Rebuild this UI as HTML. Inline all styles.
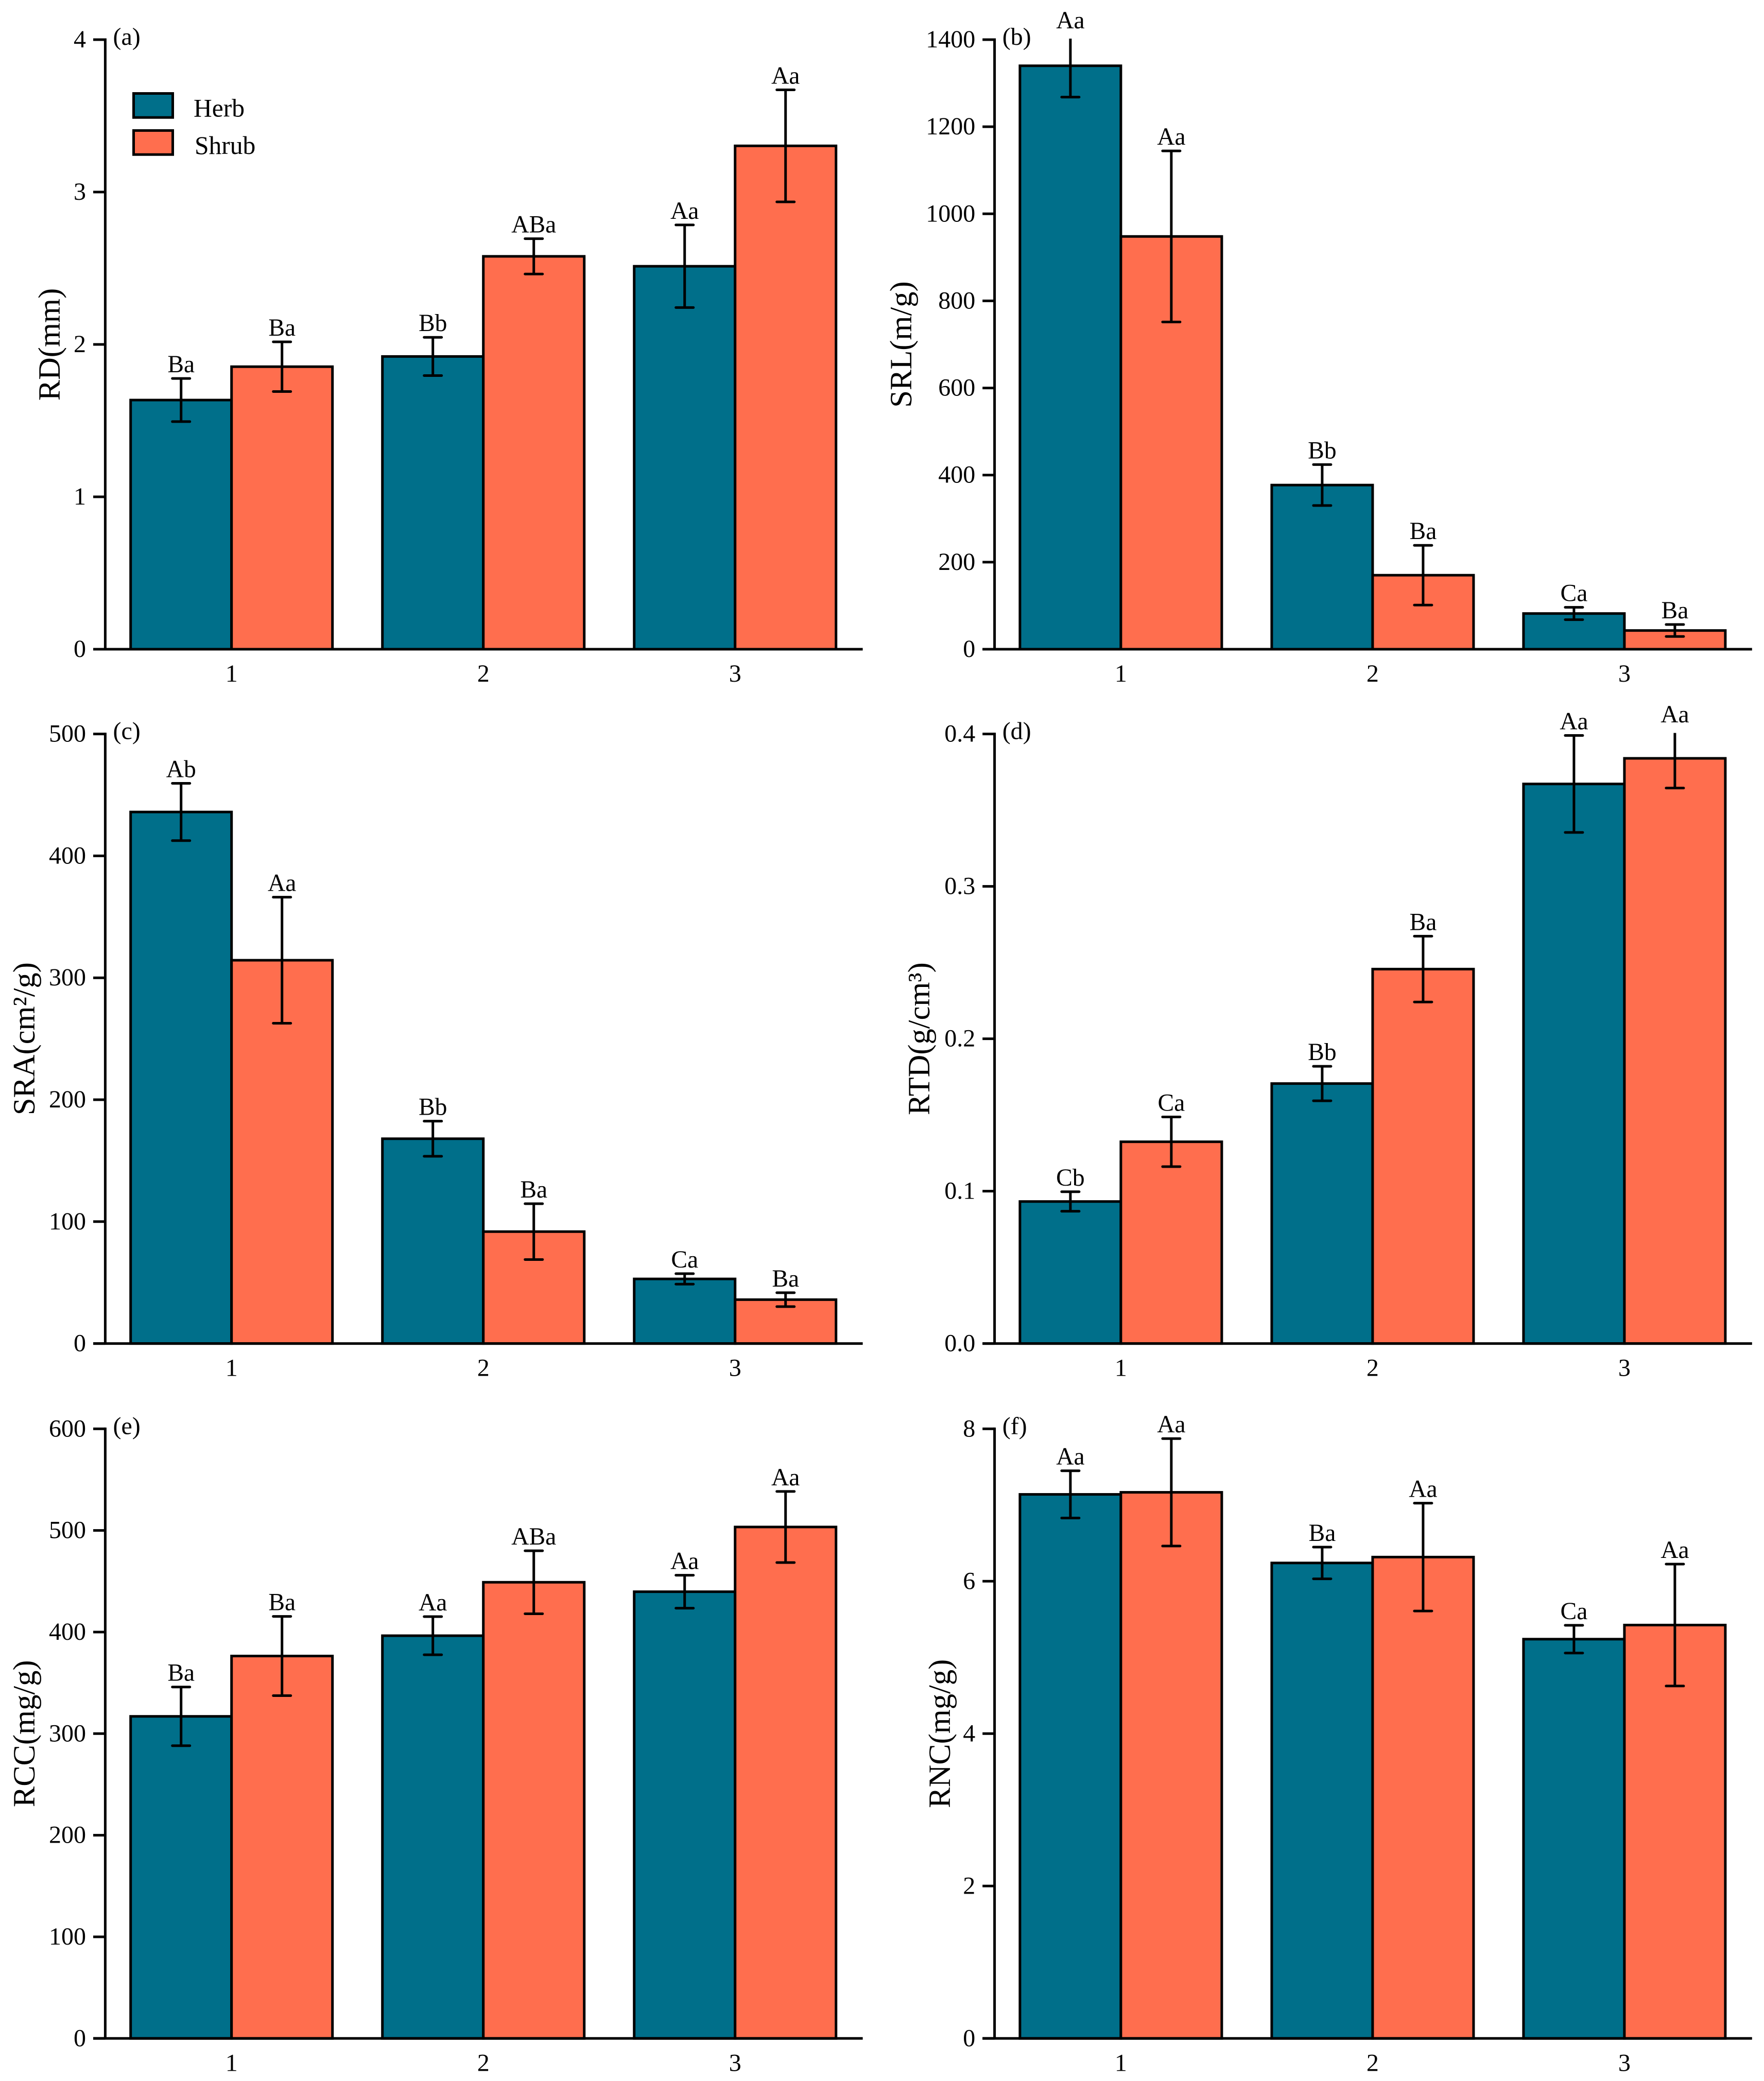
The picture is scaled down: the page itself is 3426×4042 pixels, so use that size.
<!DOCTYPE html>
<html lang="en">
<head>
<meta charset="utf-8">
<title>Root traits of herb and shrub across three groups</title>
<style>
html,body{margin:0;padding:0;background:#fff;}
svg{display:block;}
text{font-family:"Liberation Serif","Times New Roman",serif;fill:#000;}
</style>
</head>
<body>
<svg id="chart" xmlns="http://www.w3.org/2000/svg" width="3426" height="4042" viewBox="0 0 3426 4042">
<rect x="0" y="0" width="3426" height="4042" fill="#ffffff"/>
<g id="panels"></g>
<g>
<rect x="259.5" y="181.5" width="76" height="46.7" fill="#006F8A" stroke="#000" stroke-width="5"/>
<text x="376" y="226.7" font-size="49.5">Herb</text>
<rect x="259.5" y="253.5" width="76" height="46.7" fill="#FF6E4E" stroke="#000" stroke-width="5"/>
<text x="378" y="299" font-size="49.5">Shrub</text>
</g>
</svg>
<script>
const categories = ['1', '2', '3'];

const rdTicks = ['0', '1', '2', '3', '4'];
const rdHerb = [1.635, 1.921, 2.513];
const rdShrub = [1.854, 2.578, 3.303];
const rdHerbErr = [0.1415, 0.1255, 0.271];
const rdShrubErr = [0.163, 0.116, 0.3675];
const rdHerbSig = ['Ba', 'Bb', 'Aa'];
const rdShrubSig = ['Ba', 'ABa', 'Aa'];

const srlTicks = ['0', '200', '400', '600', '800', '1000', '1200', '1400'];
const srlHerb = [1340, 377, 82];
const srlShrub = [948, 170, 43];
const srlHerbErr = [72, 47, 14.2];
const srlShrubErr = [196.4, 68.6, 13.7];
const srlHerbSig = ['Aa', 'Bb', 'Ca'];
const srlShrubSig = ['Aa', 'Ba', 'Ba'];

const sraTicks = ['0', '100', '200', '300', '400', '500'];
const sraHerb = [436, 168, 53];
const sraShrub = [314.4, 91.8, 36];
const sraHerbErr = [23.5, 14.4, 4.3];
const sraShrubErr = [51.7, 22.9, 5.7];
const sraHerbSig = ['Ab', 'Bb', 'Ca'];
const sraShrubSig = ['Aa', 'Ba', 'Ba'];

const rtdTicks = ['0.0', '0.1', '0.2', '0.3', '0.4'];
const rtdHerb = [0.0932, 0.1706, 0.3672];
const rtdShrub = [0.1324, 0.2457, 0.384];
const rtdHerbErr = [0.0064, 0.0113, 0.0318];
const rtdShrubErr = [0.0163, 0.0216, 0.0195];
const rtdHerbSig = ['Cb', 'Bb', 'Aa'];
const rtdShrubSig = ['Ca', 'Ba', 'Aa'];

const rccTicks = ['0', '100', '200', '300', '400', '500', '600'];
const rccHerb = [317, 396.4, 439.7];
const rccShrub = [376.4, 449, 503.4];
const rccHerbErr = [28.9, 18.8, 16.2];
const rccShrubErr = [39, 31, 35];
const rccHerbSig = ['Ba', 'Aa', 'Aa'];
const rccShrubSig = ['Ba', 'ABa', 'Aa'];

const rncTicks = ['0', '2', '4', '6', '8'];
const rncHerb = [7.14, 6.24, 5.24];
const rncShrub = [7.167, 6.317, 5.425];
const rncHerbErr = [0.31, 0.208, 0.182];
const rncShrubErr = [0.705, 0.708, 0.8];
const rncHerbSig = ['Aa', 'Ba', 'Ca'];
const rncShrubSig = ['Aa', 'Aa', 'Aa'];

const panels = [
  {key:'rd',  letter:'(a)', title:'RD(mm)',      ticks:rdTicks,  herb:rdHerb,  shrub:rdShrub,  herbErr:rdHerbErr,  shrubErr:rdShrubErr,  herbSig:rdHerbSig,  shrubSig:rdShrubSig,  dx:0,      top:77,     bottom:1261,   titleX:116},
  {key:'srl', letter:'(b)', title:'SRL(m/g)',    ticks:srlTicks, herb:srlHerb, shrub:srlShrub, herbErr:srlHerbErr, shrubErr:srlShrubErr, herbSig:srlHerbSig, shrubSig:srlShrubSig, dx:1727.2, top:77,     bottom:1261,   titleX:1770},
  {key:'sra', letter:'(c)', title:'SRA(cm²/g)',  ticks:sraTicks, herb:sraHerb, shrub:sraShrub, herbErr:sraHerbErr, shrubErr:sraShrubErr, herbSig:sraHerbSig, shrubSig:sraShrubSig, dx:0,      top:1425.6, bottom:2609.6, titleX:67},
  {key:'rtd', letter:'(d)', title:'RTD(g/cm³)',  ticks:rtdTicks, herb:rtdHerb, shrub:rtdShrub, herbErr:rtdHerbErr, shrubErr:rtdShrubErr, herbSig:rtdHerbSig, shrubSig:rtdShrubSig, dx:1727.2, top:1425.6, bottom:2609.6, titleX:1805},
  {key:'rcc', letter:'(e)', title:'RCC(mg/g)',   ticks:rccTicks, herb:rccHerb, shrub:rccShrub, herbErr:rccHerbErr, shrubErr:rccShrubErr, herbSig:rccHerbSig, shrubSig:rccShrubSig, dx:0,      top:2775.3, bottom:3959.3, titleX:67},
  {key:'rnc', letter:'(f)', title:'RNC(mg/g)',   ticks:rncTicks, herb:rncHerb, shrub:rncShrub, herbErr:rncHerbErr, shrubErr:rncShrubErr, herbSig:rncHerbSig, shrubSig:rncShrubSig, dx:1727.2, top:2775.3, bottom:3959.3, titleX:1845}
];

const SVG_NS = 'http://www.w3.org/2000/svg';
const HERB_COLOR = '#006F8A';
const SHRUB_COLOR = '#FF6E4E';
const AXIS_X = 204.4;
const AXIS_END = 1675.6;
const TICK_LEFT = 181;
const FIRST_BAR = 253.7;
const BAR_W = 196;
const PITCH = 489;
const CAP_HALF = 17;
const LW = 5;

function make(tag, attrs, parent, text) {
  const n = document.createElementNS(SVG_NS, tag);
  Object.keys(attrs).forEach(function (k) { n.setAttribute(k, attrs[k]); });
  if (text !== undefined) n.textContent = text;
  parent.appendChild(n);
  return n;
}

function drawSeries(p, g, yScale, seriesName, values, errors, sigs, color, offset) {
  values.forEach(function (v, i) {
    const left = p.dx + FIRST_BAR + PITCH * i + offset * BAR_W;
    const y = yScale(v);
    const bar = make('rect', {x:left, y:y, width:BAR_W, height:p.bottom - y, fill:color, stroke:'#000', 'stroke-width':LW}, g);
    
    
  });
}

function drawErrors(p, g, yScale, seriesName, values, errors, sigs, offset) {
  values.forEach(function (v, i) {
    const cx = p.dx + FIRST_BAR + PITCH * i + offset * BAR_W + BAR_W / 2;
    const hi = yScale(v + errors[i]);
    const lo = yScale(v - errors[i]);
    const eg = make('g', {stroke:'#000', 'stroke-width':LW, 'stroke-linecap':'round', 'clip-path':'url(#clip-' + p.key + ')'}, g);
    
    
    make('line', {x1:cx, x2:cx, y1:hi, y2:lo, 'stroke-linecap':'butt'}, eg);
    make('line', {x1:cx - CAP_HALF, x2:cx + CAP_HALF, y1:hi, y2:hi}, eg);
    make('line', {x1:cx - CAP_HALF, x2:cx + CAP_HALF, y1:lo, y2:lo}, eg);
    const sig = make('text', {x:cx, y:hi - 12, 'font-size':47.5, 'text-anchor':'middle'}, g, sigs[i]);
    
    
  });
}

function drawPanel(p, root) {
  const g = make('g', {}, root);
  
  

  const yMax = parseFloat(p.ticks[p.ticks.length - 1]);
  const yScale = function (v) { return p.bottom - (v / yMax) * (p.bottom - p.top); };

  const clip = make('clipPath', {id:'clip-' + p.key}, g);
  make('rect', {x:p.dx, y:p.top - 2, width:AXIS_END, height:p.bottom - p.top + 2}, clip);

  drawSeries(p, g, yScale, 'herb', p.herb, p.herbErr, p.herbSig, HERB_COLOR, 0);
  drawSeries(p, g, yScale, 'shrub', p.shrub, p.shrubErr, p.shrubSig, SHRUB_COLOR, 1);
  drawErrors(p, g, yScale, 'herb', p.herb, p.herbErr, p.herbSig, 0);
  drawErrors(p, g, yScale, 'shrub', p.shrub, p.shrubErr, p.shrubSig, 1);

  const yAxis = make('line', {x1:p.dx + AXIS_X, x2:p.dx + AXIS_X, y1:p.top - 2.5, y2:p.bottom, stroke:'#000', 'stroke-width':LW}, g);
  
  

  p.ticks.forEach(function (label) {
    const y = yScale(parseFloat(label));
    const tick = make('line', {x1:p.dx + TICK_LEFT, x2:p.dx + AXIS_X, y1:y, y2:y, stroke:'#000', 'stroke-width':LW}, g);
    
    
    const t = make('text', {x:p.dx + 167, y:y + 15, 'font-size':48, 'text-anchor':'end'}, g, label);
    
    
  });

  const xAxis = make('line', {x1:p.dx + TICK_LEFT, x2:p.dx + AXIS_END, y1:p.bottom, y2:p.bottom, stroke:'#000', 'stroke-width':LW}, g);
  
  

  categories.forEach(function (c, i) {
    const t = make('text', {x:p.dx + FIRST_BAR + PITCH * i + BAR_W, y:p.bottom + 63, 'font-size':48, 'text-anchor':'middle'}, g, c);
    
    
  });

  const letter = make('text', {x:p.dx + 219.5, y:p.top + 10, 'font-size':48}, g, p.letter);
  
  

  const midY = (p.top + p.bottom) / 2;
  const title = make('text', {x:p.titleX, y:midY, 'font-size':60.5, 'text-anchor':'middle', transform:'rotate(-90 ' + p.titleX + ' ' + midY + ')'}, g, p.title);
  
  
}

const panelRoot = document.getElementById('panels');
panels.forEach(function (p) { drawPanel(p, panelRoot); });
</script>
</body>
</html>
